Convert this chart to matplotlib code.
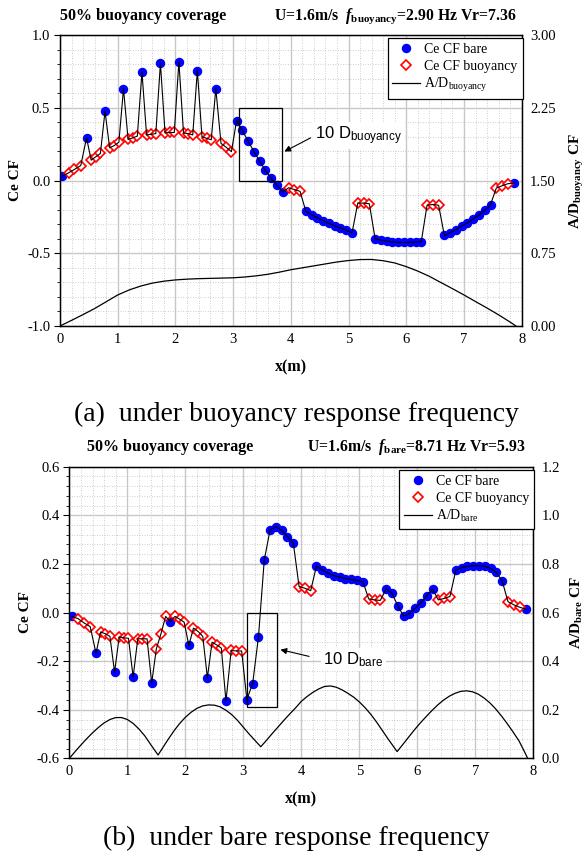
import matplotlib
matplotlib.use('Agg')
import matplotlib.pyplot as plt
from matplotlib.patches import Rectangle
from matplotlib.ticker import MultipleLocator, FormatStrFormatter

plt.rcParams['font.family'] = ['Liberation Serif', 'DejaVu Serif']
plt.rcParams['axes.unicode_minus'] = False
plt.rcParams['mathtext.fontset'] = 'custom'
plt.rcParams['mathtext.rm'] = 'Liberation Serif'
plt.rcParams['mathtext.it'] = 'Liberation Serif:italic'
plt.rcParams['mathtext.bf'] = 'Liberation Serif:bold'
plt.rcParams['mathtext.bfit'] = 'Liberation Serif:italic:bold'
plt.rcParams['mathtext.sf'] = 'Liberation Sans'

# sensor positions along the riser (m)
x_pos = [0.04, 0.15, 0.25, 0.36, 0.46, 0.54, 0.62, 0.70, 0.78, 0.86, 0.94, 1.02,
         1.10, 1.18, 1.26, 1.34, 1.42, 1.50, 1.58, 1.66, 1.74, 1.82, 1.90, 1.98,
         2.06, 2.14, 2.22, 2.30, 2.38, 2.46, 2.54, 2.62, 2.70, 2.79, 2.88, 2.97,
         3.06, 3.16, 3.26, 3.36, 3.46, 3.56, 3.66, 3.76, 3.86,
         3.96, 4.06, 4.16,
         4.26, 4.36, 4.46, 4.56, 4.66, 4.76, 4.86, 4.96, 5.06,
         5.16, 5.26, 5.36,
         5.46, 5.56, 5.66, 5.76, 5.86, 5.96, 6.06, 6.16, 6.26,
         6.36, 6.46, 6.56,
         6.66, 6.76, 6.86, 6.96, 7.06, 7.16, 7.26, 7.36, 7.46,
         7.56, 7.66, 7.76,
         7.87]
# B = bare sensor, R = sensor inside buoyancy module
kind = ('BRRRBRRRBRRRBRRRBRRRBRRRBRRRBRRRBRRR'
        'BBBBBBBBB' 'RRR' 'BBBBBBBBB' 'RRR' 'BBBBBBBBB' 'RRR' 'BBBBBBBBB' 'RRR' 'B')

# (a) buoyancy response frequency
ce_a = [0.030, 0.053, 0.076, 0.103, 0.293, 0.140, 0.163, 0.186, 0.476, 0.225, 0.240, 0.263,
        0.630, 0.282, 0.293, 0.305, 0.745, 0.313, 0.318, 0.322, 0.805, 0.327, 0.330, 0.330,
        0.815, 0.327, 0.322, 0.313, 0.755, 0.300, 0.290, 0.280, 0.630, 0.255, 0.228, 0.198,
        0.412, 0.344, 0.270, 0.199, 0.133, 0.069, 0.014, -0.034, -0.080,
        -0.050, -0.062, -0.075,
        -0.212, -0.235, -0.256, -0.276, -0.295, -0.311, -0.326, -0.343, -0.360,
        -0.155, -0.155, -0.160,
        -0.400, -0.410, -0.417, -0.422, -0.425, -0.426, -0.425, -0.423, -0.420,
        -0.170, -0.165, -0.170,
        -0.378, -0.358, -0.337, -0.314, -0.290, -0.264, -0.237, -0.205, -0.165,
        -0.052, -0.036, -0.022,
        -0.018]
ad_a_x = [0.0, 0.2, 0.4, 0.6, 0.8, 1.0, 1.2, 1.4, 1.6, 1.8, 2.0, 2.2, 2.4, 2.6, 2.8, 3.0,
          3.2, 3.4, 3.6, 3.8, 4.0, 4.2, 4.4, 4.6, 4.8, 5.0, 5.2, 5.4, 5.6, 5.8, 6.0, 6.2,
          6.4, 6.6, 6.8, 7.0, 7.2, 7.4, 7.6, 7.8, 7.9]
ad_a = [0.0, 0.058, 0.118, 0.18, 0.25, 0.32, 0.372, 0.412, 0.442, 0.462, 0.475, 0.483,
        0.488, 0.491, 0.494, 0.497, 0.505, 0.517, 0.533, 0.555, 0.58, 0.60, 0.62, 0.64,
        0.66, 0.675, 0.685, 0.686, 0.673, 0.65, 0.612, 0.566, 0.512, 0.448, 0.385, 0.32,
        0.252, 0.185, 0.115, 0.04, 0.0]

# (b) bare response frequency
ce_b = [-0.016, -0.025, -0.042, -0.058, -0.167, -0.080, -0.087, -0.098, -0.245, -0.100, -0.104, -0.106,
        -0.265, -0.108, -0.108, -0.108, -0.290, -0.149, -0.087, -0.016, -0.037, -0.016, -0.027, -0.040,
        -0.135, -0.064, -0.078, -0.098, -0.268, -0.122, -0.133, -0.146, -0.365, -0.156, -0.158, -0.158,
        -0.358, -0.292, -0.100, 0.216, 0.340, 0.353, 0.338, 0.312, 0.287,
        0.107, 0.100, 0.090,
        0.192, 0.175, 0.162, 0.152, 0.145, 0.140, 0.136, 0.132, 0.127,
        0.056, 0.052, 0.050,
        0.097, 0.080, 0.028, -0.014, -0.005, 0.018, 0.041, 0.069, 0.096,
        0.052, 0.058, 0.066,
        0.173, 0.185, 0.190, 0.193, 0.193, 0.190, 0.182, 0.165, 0.130,
        0.045, 0.032, 0.022,
        0.014]
ad_b_x = [0.0, 0.1, 0.2, 0.3, 0.4, 0.5, 0.6, 0.7, 0.8, 0.9, 1.0, 1.1, 1.2, 1.3, 1.4, 1.53,
          1.6, 1.7, 1.8, 1.9, 2.0, 2.1, 2.2, 2.3, 2.4, 2.5, 2.6, 2.7, 2.8, 2.9, 3.0, 3.1,
          3.2, 3.3, 3.4, 3.5, 3.6, 3.7, 3.8, 3.9, 4.0, 4.1, 4.2, 4.3, 4.4, 4.5, 4.6, 4.7,
          4.8, 4.9, 5.0, 5.1, 5.2, 5.3, 5.4, 5.5, 5.65, 5.75, 5.85, 5.95, 6.05, 6.15, 6.25,
          6.35, 6.45, 6.55, 6.65, 6.75, 6.85, 6.95, 7.05, 7.15, 7.25, 7.35, 7.45, 7.55,
          7.65, 7.75, 7.85, 7.9]
ad_b = [0.0, 0.028, 0.055, 0.081, 0.105, 0.127, 0.146, 0.16, 0.168, 0.168, 0.16, 0.144,
        0.121, 0.093, 0.058, 0.014, 0.04, 0.077, 0.112, 0.143, 0.169, 0.19, 0.206, 0.216,
        0.22, 0.219, 0.212, 0.198, 0.18, 0.156, 0.128, 0.1, 0.074, 0.048, 0.075, 0.103,
        0.13, 0.157, 0.183, 0.208, 0.235, 0.255, 0.272, 0.286, 0.296, 0.298, 0.293, 0.282,
        0.268, 0.252, 0.232, 0.208, 0.18, 0.148, 0.113, 0.078, 0.028, 0.058, 0.088, 0.118,
        0.146, 0.172, 0.197, 0.22, 0.24, 0.256, 0.268, 0.276, 0.278, 0.274, 0.264, 0.248,
        0.228, 0.203, 0.174, 0.142, 0.108, 0.072, 0.025, 0.0]


def draw_panel(ax, ce, ad_x, ad, sub, ylim, ystep, yminor, ad_lim, ad_step, ad_fmt,
               box, arrow_tail, arrow_head, text_xy):
    xb = [x for x, k in zip(x_pos, kind) if k == 'B']
    yb = [y for y, k in zip(ce, kind) if k == 'B']
    xr = [x for x, k in zip(x_pos, kind) if k == 'R']
    yr = [y for y, k in zip(ce, kind) if k == 'R']

    ax.plot(xb, yb, 'o', color='#0000FF', ms=5.8, zorder=3, label='Ce CF bare')
    ax.plot(xr, yr, 'D', mfc='white', mec='#FF0000', mew=1.2, ms=4.8, zorder=3,
            label='Ce CF buoyancy')
    ax.plot(x_pos, ce, color='black', lw=0.8, zorder=4)

    ax.set_xlim(0, 8)
    ax.set_ylim(*ylim)
    ax.xaxis.set_major_locator(MultipleLocator(1))
    ax.xaxis.set_minor_locator(MultipleLocator(0.2))
    ax.yaxis.set_major_locator(MultipleLocator(ystep))
    ax.yaxis.set_minor_locator(MultipleLocator(yminor))
    ax.yaxis.set_major_formatter(FormatStrFormatter('%.1f'))
    ax.grid(which='major', color='#c8c8c8', lw=1.0)
    ax.grid(which='minor', color='#bdbdbd', lw=0.6, ls=(0, (1, 2)))
    ax.set_axisbelow(True)
    ax.tick_params(axis='x', which='both', length=0, pad=5, labelsize=10.5)
    ax.tick_params(axis='y', which='major', direction='out', length=4, pad=3, labelsize=10.5)
    ax.tick_params(axis='y', which='minor', direction='out', length=2)
    for sp in ax.spines.values():
        sp.set_linewidth(1.0)

    ax.add_patch(Rectangle((box[0], box[1]), box[2], box[3], fill=False, ec='black', lw=0.9, zorder=5))
    ax.annotate('', xy=arrow_head, xytext=arrow_tail,
                arrowprops=dict(arrowstyle='-|>', color='black', lw=0.8, mutation_scale=9), zorder=6)
    ax.text(text_xy[0], text_xy[1], r'10 D$_{\mathsf{' + sub + '}}$', family='Liberation Sans',
            fontsize=12, ha='left', va='center', zorder=6,
            bbox=dict(boxstyle='square,pad=0.15', fc='white', ec='none'))

    ax2 = ax.twinx()
    ax2.plot(ad_x, ad, color='black', lw=0.9, label=r'A/D$_{\mathrm{' + sub + '}}$')
    ax2.set_ylim(*ad_lim)
    ax2.yaxis.set_major_locator(MultipleLocator(ad_step))
    ax2.yaxis.set_major_formatter(FormatStrFormatter(ad_fmt))
    ax2.tick_params(axis='y', length=0, pad=6, labelsize=10.5)

    ax.set_xlabel('x(m)', fontsize=11.5, fontweight='bold')
    ax.set_ylabel('Ce CF', fontsize=11, fontweight='bold')
    ax2.set_ylabel(r'A/D$_{\mathbf{' + sub + '}}$ CF', fontsize=11, fontweight='bold')

    h1, l1 = ax.get_legend_handles_labels()
    h2, l2 = ax2.get_legend_handles_labels()
    leg = ax2.legend(h1 + h2, l1 + l2, loc='upper right', bbox_to_anchor=(1.002, 0.988),
                     borderaxespad=0, fontsize=10, numpoints=1, fancybox=False, framealpha=1,
                     edgecolor='black', handlelength=2.0, handletextpad=0.3,
                     labelspacing=0.25, borderpad=0.35)
    leg.get_frame().set_linewidth(0.9)
    return ax2


fig = plt.figure(figsize=(5.85, 8.51), dpi=100)
H = 851.0
W = 585.0

ax_a = fig.add_axes([60 / W, 1 - 326 / H, 461.7 / W, 291 / H])
ax_a2 = draw_panel(ax_a, ce_a, ad_a_x, ad_a, 'buoyancy', (-1, 1), 0.5, 0.1, (0, 3), 0.75, '%.2f',
                   (3.1, -0.005, 0.74, 0.5), (4.385, 0.302), (3.845, 0.19), (4.42, 0.31))
ax_a.xaxis.set_label_coords(0.5, -45 / 291)
ax_a.xaxis.label.set_va('baseline')
ax_a.yaxis.set_label_coords((15.7 - 60) / 461.7, 0.5)
ax_a.yaxis.label.set_va('center')
ax_a2.yaxis.set_label_coords((577 - 60) / 461.7, 0.5)
ax_a2.yaxis.label.set_va('center')

ax_b = fig.add_axes([69.3 / W, 1 - 758.4 / H, 464.2 / W, 291.7 / H])
ax_b2 = draw_panel(ax_b, ce_b, ad_b_x, ad_b, 'bare', (-0.6, 0.6), 0.2, 0.04, (0, 1.2), 0.2, '%.1f',
                   (3.06, -0.389, 0.526, 0.389), (4.18, -0.183), (3.592, -0.150), (4.38, -0.194))
ax_b.xaxis.set_label_coords(0.5, -45 / 291.7)
ax_b.xaxis.label.set_va('baseline')
ax_b.yaxis.set_label_coords((25.7 - 69.3) / 464.2, 0.5)
ax_b.yaxis.label.set_va('center')
ax_b2.yaxis.set_label_coords((577 - 69.3) / 464.2, 0.5)
ax_b2.yaxis.label.set_va('center')

# panel headers
fig.text(60 / W, 1 - 20 / H, '50% buoyancy coverage', ha='left', va='baseline',
         fontsize=11.5, fontweight='bold')
fig.text(517 / W, 1 - 20 / H, r'U=1.6m/s  $\mathbfit{f}_{\mathbf{buoyancy}}$=2.90 Hz Vr=7.36',
         ha='right', va='baseline', fontsize=11.3, fontweight='bold')
fig.text(87 / W, 1 - 450.7 / H, '50% buoyancy coverage', ha='left', va='baseline',
         fontsize=11.5, fontweight='bold')
fig.text(526 / W, 1 - 450.7 / H, r'U=1.6m/s  $\mathbfit{f}_{\mathbf{bare}}$=8.71 Hz Vr=5.93',
         ha='right', va='baseline', fontsize=11.3, fontweight='bold')

# captions
fig.text(296.7 / W, 1 - 420.7 / H, '(a)  under buoyancy response frequency', ha='center',
         va='baseline', fontsize=20)
fig.text(296.7 / W, 1 - 845 / H, '(b)  under bare response frequency', ha='center',
         va='baseline', fontsize=20)

fig.savefig('out.png', dpi=100)
